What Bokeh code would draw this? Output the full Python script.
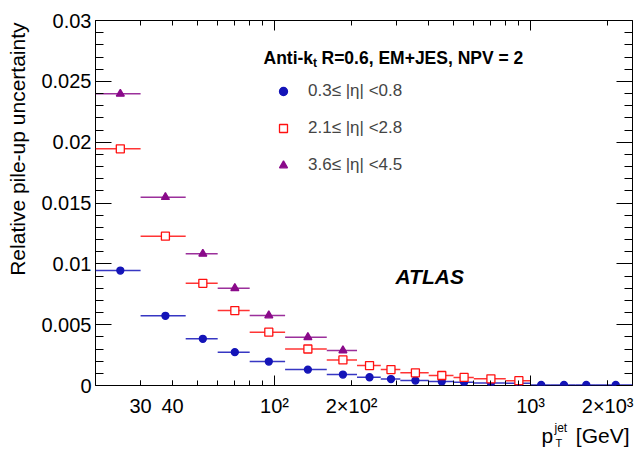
import math
from bokeh.plotting import figure
from bokeh.layouts import column, row
from bokeh.models import (Range1d, LinearAxis, LogAxis, FixedTicker, ColumnDataSource,
                          Label, Legend, LegendItem, Grid)
from bokeh.embed import file_html
from bokeh.resources import INLINE

# ---------------- data ----------------
bin_edges = [20, 30, 45, 60, 80, 110, 160, 210, 260, 310, 400, 500, 600, 800,
             1000, 1200, 1500, 1800, 2500]
eta_low = [0.00945, 0.00573, 0.00384, 0.00274, 0.00197, 0.00131, 0.00090, 0.00068,
           0.00053, 0.00041, 0.00033, 0.00027, 0.00020, 0.00018, 0.00004, 0.00004,
           0.00004, 0.00004]
eta_mid = [0.01945, 0.01227, 0.00840, 0.00616, 0.00438, 0.00300, 0.00210, 0.00164,
           0.00131, 0.00104, 0.00082, 0.00066, 0.00055, 0.00040]
eta_fwd = [0.02397, 0.01548, 0.01082, 0.00800, 0.00575, 0.00397, 0.00288]

series_labels = ["0.3\u2264 |\u03b7| <0.8", "2.1\u2264 |\u03b7| <2.8", "3.6\u2264 |\u03b7| <4.5"]

x_tick_values = [30, 40, 100, 200, 1000, 2000]
x_tick_labels = ["30", "40", "10\u00b2", "2\u00d710\u00b2", "10\u00b3", "2\u00d710\u00b3"]
x_long_ticks = [100, 1000]
x_minor_ticks = [30, 40, 50, 60, 70, 80, 90, 200, 300, 400, 500, 600, 700, 800, 900, 2000]
y_tick_values = [0.0, 0.005, 0.01, 0.015, 0.02, 0.025, 0.03]
y_tick_labels = ["0", "0.005", "0.01", "0.015", "0.02", "0.025", "0.03"]
y_minor_ticks = [i / 1000 for i in range(0, 31)]

FONT = "Liberation Sans"
BLUE = "#1414b8"
RED = "#ff1010"
PURPLE = "#8a0a8a"


def make_source(values):
    lo = bin_edges[:len(values)]
    hi = bin_edges[1:len(values) + 1]
    xc = [(a + b) / 2 for a, b in zip(lo, hi)]
    return ColumnDataSource(dict(lo=lo, hi=hi, xc=xc, v=values))


def hide_grids(fig):
    for g in fig.select(type=Grid):
        g.visible = False


TOP_H = 419
p = figure(width=606, height=TOP_H, x_axis_type="log",
           x_range=Range1d(20, 2500), y_range=Range1d(0, 0.03),
           x_axis_location=None, y_axis_location=None,
           output_backend="svg", toolbar_location=None,
           min_border_left=65, min_border_right=4, min_border_top=20,
           min_border_bottom=34)
hide_grids(p)
p.outline_line_color = "black"
p.outline_line_width = 1
p.outline_line_alpha = 1
p.background_fill_color = "white"
p.border_fill_color = "white"


def style_axis(ax, labels=True, size="20px"):
    ax.axis_line_color = None
    ax.major_tick_out = 0
    ax.minor_tick_out = 0
    ax.major_tick_line_color = "black"
    ax.minor_tick_line_color = "black"
    ax.major_label_text_font = FONT
    if labels:
        ax.major_label_text_font_size = size
        ax.major_label_text_color = "black"
    else:
        ax.major_label_text_font_size = "1px"
        ax.major_label_text_color = None
        ax.major_label_standoff = 0


# y axes
yl = LinearAxis(ticker=FixedTicker(ticks=y_tick_values, minor_ticks=y_minor_ticks),
                major_label_overrides=dict(zip(y_tick_values, y_tick_labels)))
style_axis(yl)
yl.major_tick_in = 16
yl.minor_tick_in = 8
yl.major_label_standoff = 4
p.add_layout(yl, "left")

yr = LinearAxis(ticker=FixedTicker(ticks=y_tick_values, minor_ticks=y_minor_ticks))
style_axis(yr, labels=False)
yr.major_tick_in = 16
yr.minor_tick_in = 8
p.add_layout(yr, "right")

# x axes
xb_long = LogAxis(ticker=FixedTicker(ticks=x_long_ticks, minor_ticks=[]))
style_axis(xb_long, labels=False)
xb_long.major_tick_in = 10
xb_long.minor_tick_in = 0
p.add_layout(xb_long, "below")

xb = LogAxis(ticker=FixedTicker(ticks=x_tick_values, minor_ticks=x_minor_ticks),
             major_label_overrides=dict(zip(x_tick_values, x_tick_labels)))
style_axis(xb)
xb.major_tick_in = 5
xb.minor_tick_in = 5
xb.major_label_standoff = 9
p.add_layout(xb, "below")

xt = LogAxis(ticker=FixedTicker(ticks=x_long_ticks, minor_ticks=x_minor_ticks))
style_axis(xt, labels=False)
xt.major_tick_in = 10
xt.minor_tick_in = 5
p.add_layout(xt, "above")

# data
renderers = []
specs = [(eta_low, BLUE, "circle", 7, BLUE),
         (eta_mid, RED, "square", 8, "white"),
         (eta_fwd, PURPLE, "triangle", 8, PURPLE)]
for vals, col, mk, sz, fill in specs:
    src = make_source(vals)
    p.segment(x0="lo", x1="hi", y0="v", y1="v", source=src, line_color=col,
              line_width=1.5, line_alpha=0.85)
for vals, col, mk, sz, fill in specs:
    src = make_source(vals)
    r = p.scatter(x="xc", y="v", source=src, marker=mk, size=sz, fill_color=fill,
                  line_color=col, line_width=1.3)
    renderers.append(r)

legend = Legend(items=[LegendItem(label=lab, renderers=[r]) for lab, r in zip(series_labels, renderers)],
                location=(178, 210), glyph_width=20, glyph_height=20, label_standoff=15,
                spacing=17, padding=0, margin=0, border_line_color=None,
                background_fill_alpha=0, label_text_font=FONT,
                label_text_font_size="17px", label_height=20)
p.add_layout(legend)


def add_label(fig, text, x, y, size, style="normal", align="left", baseline="alphabetic", angle=0):
    fig.add_layout(Label(x=x, y=y, x_units="screen", y_units="screen", text=text,
                         text_font=FONT, text_font_size=size, text_font_style=style,
                         text_align=align, text_baseline=baseline, angle=angle,
                         text_color="black"))


add_label(p, "Anti-k", 168, 327.5, "17.5px", "bold")
add_label(p, "t", 217.5, 323, "12px", "bold")
add_label(p, "R=0.6, EM+JES, NPV = 2", 226, 327.5, "17.5px", "bold")
add_label(p, "ATLAS", 300, 109, "21px", "bold italic")


def blank_fig(w, h):
    f = figure(width=w, height=h, x_range=Range1d(0, 1), y_range=Range1d(0, 1),
               x_axis_location=None, y_axis_location=None, output_backend="svg",
               toolbar_location=None, min_border=0)
    hide_grids(f)
    f.outline_line_color = None
    f.background_fill_color = "white"
    f.border_fill_color = "white"
    return f


# y-axis title panel
py = blank_fig(30, TOP_H)
add_label(py, "Relative pile-up uncertainty", 17, TOP_H - 56, "21px", align="right",
          baseline="middle", angle=math.pi / 2)

# x-axis title panel
BOT_H = 449 - TOP_H
px = blank_fig(636, BOT_H)
base = BOT_H - 435 + TOP_H
add_label(px, "[GeV]", 629, base, "21px", align="right")
add_label(px, "p", 541, base, "21px")
add_label(px, "jet", 554, base + 8, "12px")
add_label(px, "T", 555, BOT_H - 436 + TOP_H, "11px", baseline="top")

layout = column(row(py, p), px)
open("out.html", "w").write(file_html(layout, INLINE))
